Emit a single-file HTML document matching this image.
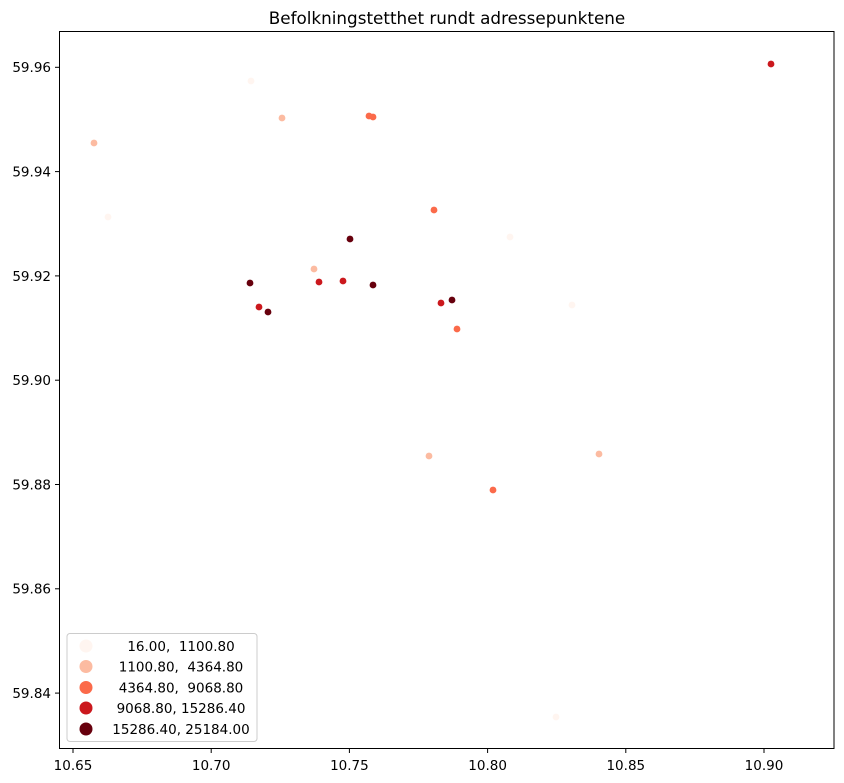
<!DOCTYPE html>
<html><head><meta charset="utf-8"><style>body{margin:0;background:#fff}svg{display:block}text{white-space:pre}</style></head>
<body>
<svg width="844" height="783" xmlns="http://www.w3.org/2000/svg" font-family="DejaVu Sans, Liberation Sans, sans-serif">
<rect width="844" height="783" fill="#fff"/>
<text x="447" y="24" font-size="16.8" text-anchor="middle" fill="#000">Befolkningstetthet rundt adressepunktene</text>
<g fill="#fff5f0"><circle cx="251" cy="81" r="3.4"/><circle cx="108" cy="217" r="3.4"/><circle cx="510" cy="237" r="3.4"/><circle cx="572" cy="305" r="3.4"/><circle cx="556" cy="717" r="3.4"/></g>
<g fill="#fcbba1"><circle cx="282" cy="118" r="3.4"/><circle cx="94" cy="143" r="3.4"/><circle cx="314" cy="269" r="3.4"/><circle cx="429" cy="456" r="3.4"/><circle cx="599" cy="454" r="3.4"/></g>
<g fill="#fb6a4a"><circle cx="369" cy="116" r="3.4"/><circle cx="373" cy="117" r="3.4"/><circle cx="434" cy="210" r="3.4"/><circle cx="457" cy="329" r="3.4"/><circle cx="493" cy="490" r="3.4"/></g>
<g fill="#cb181d"><circle cx="771" cy="64" r="3.4"/><circle cx="319" cy="282" r="3.4"/><circle cx="343" cy="281" r="3.4"/><circle cx="259" cy="307" r="3.4"/><circle cx="441" cy="303" r="3.4"/></g>
<g fill="#67000d"><circle cx="350" cy="239" r="3.4"/><circle cx="250" cy="283" r="3.4"/><circle cx="373" cy="285" r="3.4"/><circle cx="268" cy="312" r="3.4"/><circle cx="452" cy="300" r="3.4"/></g>
<rect x="59.5" y="31.5" width="774.5" height="717" fill="none" stroke="#000" stroke-width="1"/>
<g stroke="#000" stroke-width="1">
<line x1="73" y1="748.5" x2="73" y2="753"/><line x1="211.2" y1="748.5" x2="211.2" y2="753"/><line x1="349.4" y1="748.5" x2="349.4" y2="753"/><line x1="487.6" y1="748.5" x2="487.6" y2="753"/><line x1="625.8" y1="748.5" x2="625.8" y2="753"/><line x1="764" y1="748.5" x2="764" y2="753"/>
<line x1="55" y1="67.3" x2="59.5" y2="67.3"/><line x1="55" y1="171.6" x2="59.5" y2="171.6"/><line x1="55" y1="275.9" x2="59.5" y2="275.9"/><line x1="55" y1="380.2" x2="59.5" y2="380.2"/><line x1="55" y1="484.5" x2="59.5" y2="484.5"/><line x1="55" y1="588.8" x2="59.5" y2="588.8"/><line x1="55" y1="693.1" x2="59.5" y2="693.1"/>
</g>
<g font-size="13.5" fill="#000" text-anchor="middle">
<text x="73" y="770">10.65</text><text x="211.2" y="770">10.70</text><text x="349.4" y="770">10.75</text><text x="487.6" y="770">10.80</text><text x="625.8" y="770">10.85</text><text x="764" y="770">10.90</text>
</g>
<g font-size="13.5" fill="#000" text-anchor="end">
<text x="51" y="72">59.96</text><text x="51" y="176.5">59.94</text><text x="51" y="281">59.92</text><text x="51" y="385">59.90</text><text x="51" y="489.5">59.88</text><text x="51" y="593.5">59.86</text><text x="51" y="698">59.84</text>
</g>
<rect x="67" y="633.5" width="190" height="108" rx="3" fill="#fff" fill-opacity="0.8" stroke="#ccc"/>
<circle cx="86" cy="646" r="6.5" fill="#fff5f0"/>
<circle cx="86" cy="666.5" r="6.5" fill="#fcbba1"/>
<circle cx="86" cy="687.5" r="6.5" fill="#fb6a4a"/>
<circle cx="86" cy="708" r="6.5" fill="#cb181d"/>
<circle cx="86" cy="729" r="6.5" fill="#67000d"/>
<g font-size="13.5" fill="#000" text-anchor="middle" xml:space="preserve">
<text x="181" y="651">16.00,  1100.80</text>
<text x="181" y="671.5">1100.80,  4364.80</text>
<text x="181" y="692.5">4364.80,  9068.80</text>
<text x="181" y="713">9068.80, 15286.40</text>
<text x="181" y="734">15286.40, 25184.00</text>
</g>
</svg>
</body></html>
